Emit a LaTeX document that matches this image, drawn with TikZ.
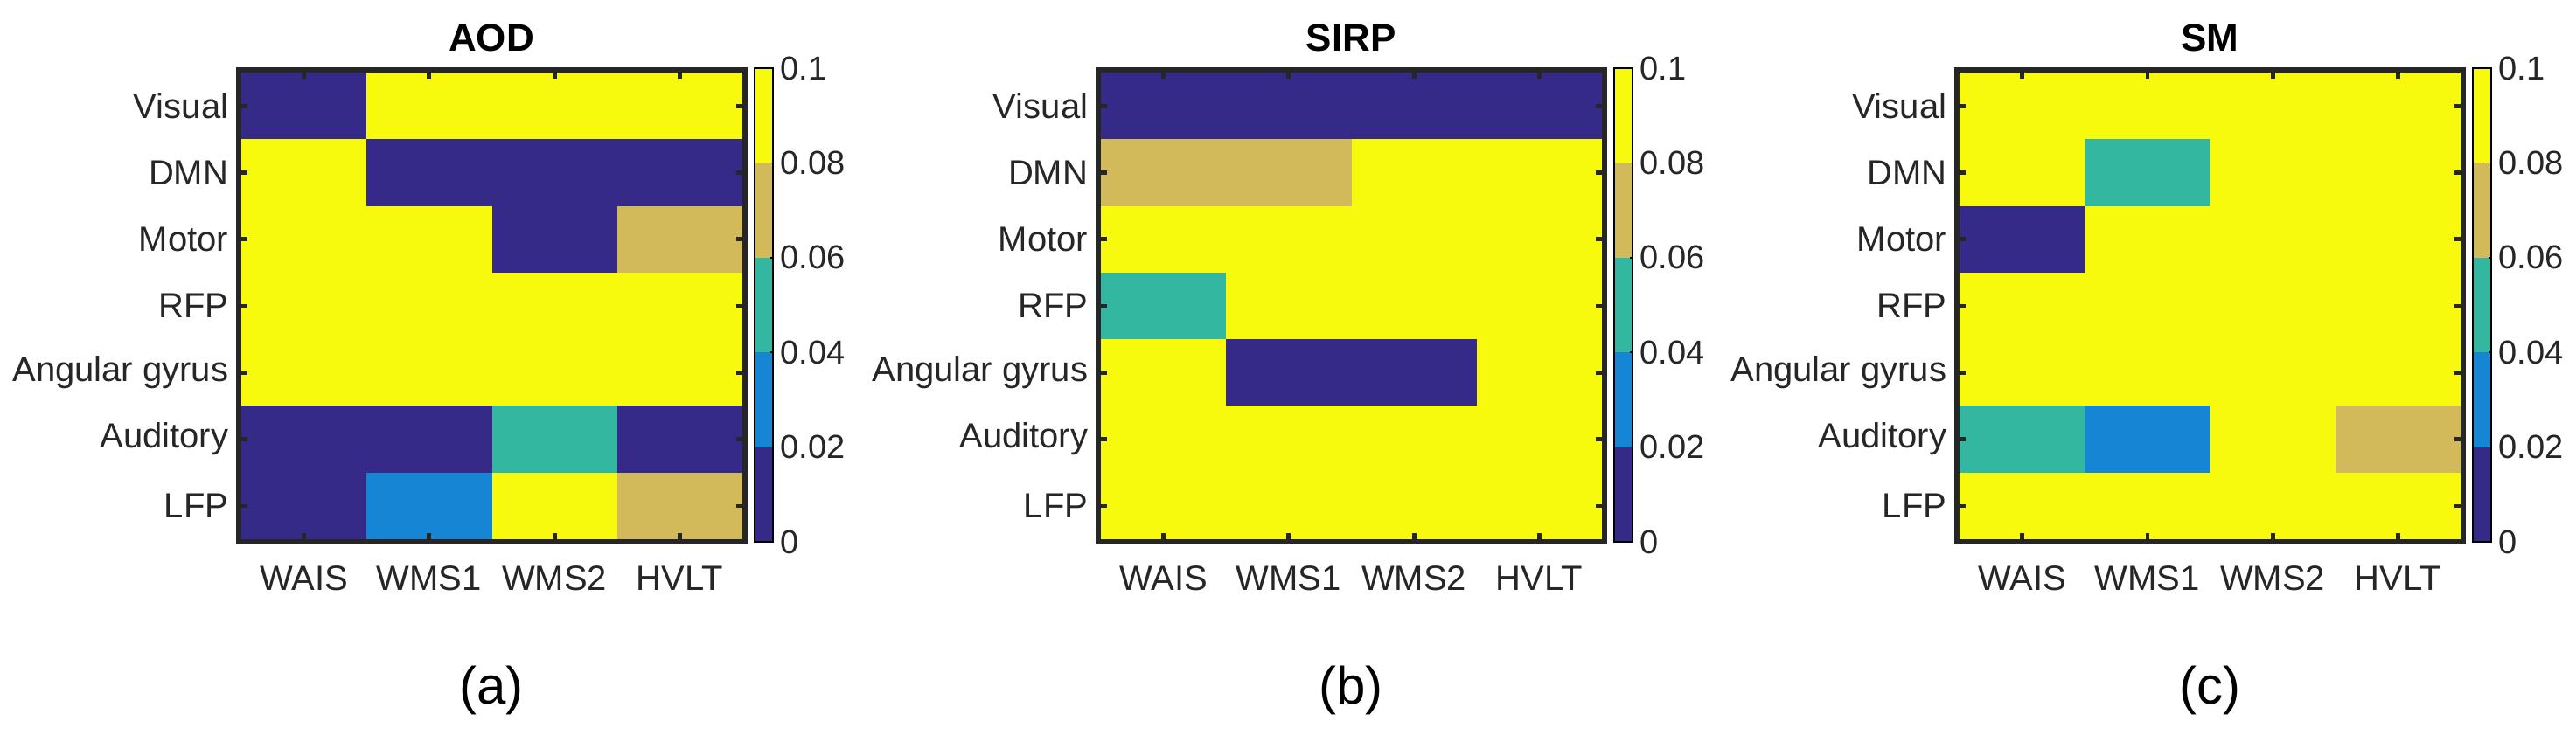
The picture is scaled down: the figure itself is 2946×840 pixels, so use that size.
\documentclass[tikz,border=0pt]{standalone}
\usepackage{fontspec}
\setmainfont{Liberation Sans}
\definecolor{cD}{RGB}{53,42,135}
\definecolor{cB}{RGB}{22,133,212}
\definecolor{cG}{RGB}{51,183,160}
\definecolor{cT}{RGB}{210,185,90}
\definecolor{cY}{RGB}{248,250,13}
\definecolor{frame}{RGB}{38,38,38}
\tikzset{
  ylab/.style={anchor=east,font=\fontsize{10}{12}\selectfont,text=frame,inner sep=0pt},
  xlab/.style={anchor=center,font=\fontsize{10}{12}\selectfont,text=frame,inner sep=0pt},
  cblab/.style={anchor=west,font=\fontsize{9.5}{11}\selectfont,text=frame,inner sep=0pt},
  ttl/.style={font=\bfseries\fontsize{11}{13}\selectfont,inner sep=0pt},
  sub/.style={font=\fontsize{15}{18}\selectfont,inner sep=0pt},
  frm/.style={draw=frame,line width=1.5pt},
  tick/.style={draw=frame,line width=1.2pt}
}
\newcommand\mypanel[4]{%
 \begin{scope}[xshift=#1*0.25pt]
  \foreach \r [count=\j] in {#4}{
    \foreach \c [count=\i] in \r {
      \fill[c\c] ({276+(\i-1)*143.25},{83+(\j-1)*76.29}) rectangle ++(143.25,76.29);
    }
  }
  \draw[frm] (273,79.5) rectangle (852,620);
  \foreach \i in {1,...,4}{
    \draw[tick] ({276+(\i-0.5)*143.25},83) -- ++(0,7);
    \draw[tick] ({276+(\i-0.5)*143.25},617) -- ++(0,-7);
  }
  \foreach \j in {1,...,7}{
    \draw[tick] (276,{83+(\j-0.5)*76.29}) -- ++(7,0);
    \draw[tick] (849,{83+(\j-0.5)*76.29}) -- ++(-7,0);
  }
  \foreach \n [count=\j] in {Visual,DMN,Motor,RFP,Angular gyrus,Auditory,LFP}
    \node[ylab] (#3-y\j) at (262,{83+(\j-0.5)*76.29}) {\n};
  \foreach \n [count=\i] in {WAIS,WMS1,WMS2,HVLT}
    \node[xlab] (#3-x\i) at ({276+(\i-0.5)*143.25},662) {\n};
  \foreach \c [count=\k] in {D,B,G,T,Y}
    \fill[c\c] (863,{620-(\k)*108.4}) rectangle (884,{620-(\k-1)*108.4});
  \draw[black,line width=0.4pt] (863,78) rectangle (884,620);
  \foreach \l [count=\k from 0] in {0,0.02,0.04,0.06,0.08,0.1}{
    \draw[black,line width=0.4pt] (884,{620-\k*108.4}) -- ++(-3,0);
    \node[cblab] (#3-cb\k) at (892,{620-\k*108.4}) {\l};
  }
  \node[ttl] (#3-title) at (562,43) {#2};
  \node[sub] (#3-sub) at (562,790) {(#3)};
 \end{scope}}
\begin{document}
\begin{tikzpicture}[x=0.25pt,y=-0.25pt]
\useasboundingbox (0,0) rectangle (2946,840);
\mypanel{0}{AOD}{a}{{D,Y,Y,Y},{Y,D,D,D},{Y,Y,D,T},{Y,Y,Y,Y},{Y,Y,Y,Y},{D,D,G,D},{D,B,Y,T}}
\mypanel{983}{SIRP}{b}{{D,D,D,D},{T,T,Y,Y},{Y,Y,Y,Y},{G,Y,Y,Y},{Y,D,D,Y},{Y,Y,Y,Y},{Y,Y,Y,Y}}
\mypanel{1965}{SM}{c}{{Y,Y,Y,Y},{Y,G,Y,Y},{D,Y,Y,Y},{Y,Y,Y,Y},{Y,Y,Y,Y},{G,B,Y,T},{Y,Y,Y,Y}}
\end{tikzpicture}
\end{document}
